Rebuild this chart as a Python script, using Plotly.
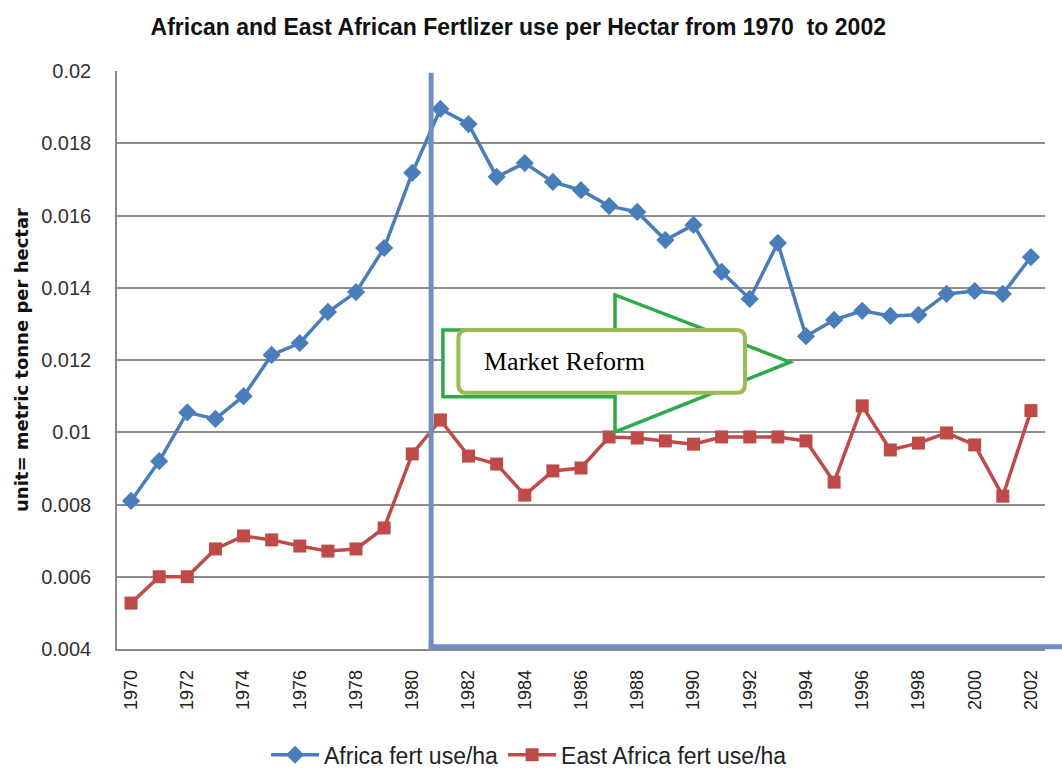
import plotly.graph_objects as go

years = list(range(1970, 2003))
africa = [0.0081, 0.0092, 0.01055, 0.01037, 0.0110, 0.01214, 0.01247, 0.01333, 0.01388, 0.0151,
          0.01718, 0.01895, 0.01853, 0.01707, 0.01745, 0.01693, 0.0167, 0.01626, 0.0161, 0.01532,
          0.01574, 0.01444, 0.01369, 0.01524, 0.01266, 0.01311, 0.01336, 0.01322, 0.01325, 0.01383,
          0.01391, 0.01383, 0.01485]
east_africa = [0.00527, 0.0060, 0.0060, 0.00677, 0.00713, 0.00702, 0.00685, 0.00671, 0.00677, 0.00735,
               0.0094, 0.01034, 0.00934, 0.00912, 0.00826, 0.00893, 0.00901, 0.00987, 0.00984, 0.00976,
               0.00967, 0.00987, 0.00987, 0.00987, 0.00976, 0.00862, 0.01073, 0.00951, 0.0097, 0.00998,
               0.00965, 0.00823, 0.0106]
tick_years = list(range(1970, 2003, 2))
y_ticks = [0.004, 0.006, 0.008, 0.010, 0.012, 0.014, 0.016, 0.018, 0.020]
y_labels = ["0.004", "0.006", "0.008", "0.01", "0.012", "0.014", "0.016", "0.018", "0.02"]

blue = "#4a7ebb"
red = "#be4b48"

fig = go.Figure()
fig.add_trace(go.Scatter(x=years, y=africa, mode="lines+markers", name="Africa fert use/ha",
                         line=dict(color=blue, width=3.5),
                         marker=dict(symbol="diamond", size=14, color=blue)))
fig.add_trace(go.Scatter(x=years, y=east_africa, mode="lines+markers", name="East Africa fert use/ha",
                         line=dict(color=red, width=3.5),
                         marker=dict(symbol="square", size=13, color=red)))

# vertical market reform line and bottom bar
fig.add_shape(type="line", xref="x", yref="paper", x0=1980.67, x1=1980.67, y0=0, y1=0.997,
              line=dict(color="#6f8fbf", width=5))
fig.add_shape(type="line", xref="paper", yref="paper", x0=0.336, x1=1.02, y0=0.004, y1=0.004,
              line=dict(color="#6f8fbf", width=5))

# green block arrow
xl, xm, xt = 1981.09, 1987.21, 1993.43
arrow = (f"M {xl},0.01283 L {xm},0.01283 L {xm},0.0138 L {xt},0.01194 "
         f"L {xm},0.01001 L {xm},0.01098 L {xl},0.01098 Z")
fig.add_shape(type="path", path=arrow, xref="x", yref="y",
              line=dict(color="#2eaa4a", width=3.5), fillcolor="white")

# rounded text box
x0, x1, y0, y1 = 1981.64, 1991.83, 0.01109, 0.01283
rx, ry = 0.3, 0.00024
box = (f"M {x0+rx},{y1} L {x1-rx},{y1} Q {x1},{y1} {x1},{y1-ry} L {x1},{y0+ry} "
       f"Q {x1},{y0} {x1-rx},{y0} L {x0+rx},{y0} Q {x0},{y0} {x0},{y0+ry} "
       f"L {x0},{y1-ry} Q {x0},{y1} {x0+rx},{y1} Z")
fig.add_shape(type="path", path=box, xref="x", yref="y",
              line=dict(color="#9bbb59", width=4), fillcolor="white")
fig.add_annotation(x=1982.47, y=0.01196, xref="x", yref="y", text="Market Reform",
                   showarrow=False, xanchor="left", yanchor="middle",
                   font=dict(family="Liberation Serif, Times New Roman, serif", size=26, color="black"))

fig.update_layout(
    width=1062, height=771,
    paper_bgcolor="white", plot_bgcolor="white",
    margin=dict(l=117, r=17, t=71, b=122, autoexpand=False),
    title=dict(text="<b>African and East African Fertlizer use per Hectar from 1970  to 2002</b>",
               x=0.488, xanchor="center", y=0.965, yanchor="middle",
               font=dict(family="Liberation Sans, Arial, sans-serif", size=23, color="#111")),
    showlegend=True,
    legend=dict(orientation="h", x=0.444, xanchor="center", yref="container", y=0.021, yanchor="middle",
                font=dict(family="Liberation Sans, Arial, sans-serif", size=23, color="#222"),
                itemwidth=48),
    font=dict(family="Liberation Sans, Arial, sans-serif", color="#222"),
)
fig.update_xaxes(range=[1969.5, 2002.5], tickmode="array", tickvals=tick_years,
                 ticktext=[str(y) for y in tick_years], tickangle=-90,
                 tickfont=dict(size=18, family="Liberation Sans, Arial, sans-serif", color="#222"),
                 ticklabelstandoff=12,
                 showgrid=False, zeroline=False, showline=True, linecolor="#888", linewidth=1.5,
                 ticks="", fixedrange=True)
fig.update_yaxes(range=[0.004, 0.020], tickmode="array", tickvals=y_ticks, ticktext=y_labels,
                 tickfont=dict(size=20, family="Liberation Sans, Arial, sans-serif", color="#333"),
                 ticklabelstandoff=20,
                 showgrid=True, gridcolor="#8c8c8c", gridwidth=1.5, zeroline=False,
                 showline=True, linecolor="#888", linewidth=1.5, ticks="",
                 title=dict(text="<b>unit= metric tonne per hectar</b>", standoff=8,
                            font=dict(size=18, family="DejaVu Sans, Verdana, sans-serif", color="#111")),
                 fixedrange=True)

fig.write_html("out.html")
